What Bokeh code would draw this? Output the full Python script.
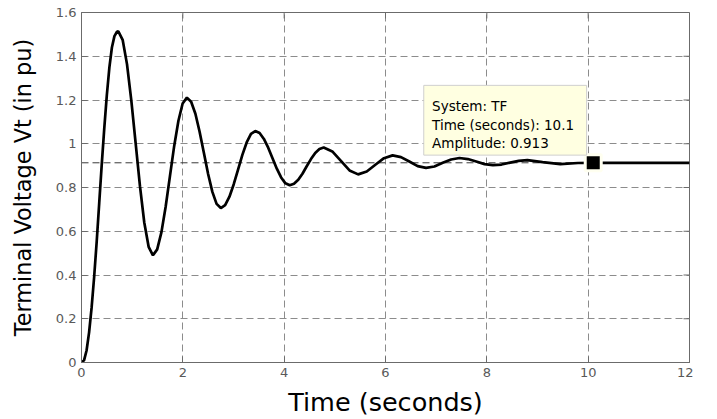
from bokeh.plotting import figure
from bokeh.models import Span, FixedTicker, Range1d
from bokeh.core.properties import value
from bokeh.embed import file_html
from bokeh.resources import INLINE

# ---- data (step response) ----
time_s = [0.00, 0.05, 0.10, 0.15, 0.20, 0.25, 0.30, 0.35, 0.40, 0.45, 0.50, 0.55, 0.60, 0.65, 0.70, 0.727,
          0.812, 0.898, 0.983, 1.069, 1.154, 1.239, 1.325, 1.41,
          1.494, 1.578, 1.661, 1.745, 1.829, 1.913, 1.996, 2.08,
          2.164, 2.248, 2.331, 2.415, 2.499, 2.583, 2.666, 2.75,
          2.835, 2.92, 3.005, 3.09, 3.175, 3.26, 3.345, 3.43,
          3.515, 3.60, 3.685, 3.77, 3.855, 3.94, 4.025, 4.11,
          4.194, 4.278, 4.361, 4.445, 4.529, 4.613, 4.696, 4.78,
          4.95, 5.12, 5.29, 5.46, 5.63, 5.80, 5.97, 6.14,
          6.305, 6.47, 6.635, 6.80, 6.965, 7.13, 7.295, 7.46,
          7.625, 7.79, 7.955, 8.12, 8.29, 8.46, 8.63, 8.80,
          9.10, 9.45, 9.80, 10.1, 12.0]
amplitude = [0.000, 0.010, 0.055, 0.138, 0.252, 0.392, 0.553, 0.730, 0.907, 1.073, 1.222, 1.348, 1.440, 1.492, 1.512, 1.514,
             1.475, 1.364, 1.198, 1.002, 0.806, 0.640, 0.529, 0.490,
             0.517, 0.596, 0.712, 0.851, 0.989, 1.105, 1.184, 1.211,
             1.192, 1.137, 1.055, 0.959, 0.862, 0.780, 0.725, 0.706,
             0.719, 0.758, 0.815, 0.882, 0.949, 1.006, 1.045, 1.058,
             1.049, 1.022, 0.982, 0.934, 0.886, 0.846, 0.819, 0.810,
             0.817, 0.835, 0.863, 0.897, 0.930, 0.958, 0.976, 0.983,
             0.965, 0.922, 0.878, 0.860, 0.873, 0.904, 0.934, 0.947,
             0.939, 0.919, 0.898, 0.890, 0.896, 0.913, 0.928, 0.935,
             0.930, 0.919, 0.907, 0.902, 0.905, 0.914, 0.922, 0.925,
             0.916, 0.907, 0.912, 0.913, 0.913]
final_value = 0.913
cursor_time = [10.1]
cursor_amp = [0.913]
x_ticks = [0, 2, 4, 6, 8, 10, 12]
x_tick_labels = ["0", "2", "4", "6", "8", "10", "12"]
y_ticks = [0, 0.2, 0.4, 0.6, 0.8, 1.0, 1.2, 1.4, 1.6]
y_tick_labels = ["0", "0.2", "0.4", "0.6", "0.8", "1", "1.2", "1.4", "1.6"]
tip_lines = ["System: TF", "Time (seconds): 10.1", "Amplitude: 0.913"]

FONT = "DejaVu Sans"
AX_COL = "#6b6b6b"
GRID_COL = "#8c8c8c"

X0, X1, Y0, Y1 = 0, 12, 0, 1.6
p = figure(width=693, height=419, x_range=Range1d(X0, X1), y_range=Range1d(Y0, Y1),
           output_backend="svg", toolbar_location=None,
           min_border_left=81, min_border_right=4, min_border_top=12, min_border_bottom=56,
           background_fill_color="white", border_fill_color="white")
p.outline_line_color = AX_COL

# axes
p.xaxis.ticker = FixedTicker(ticks=x_ticks)
p.yaxis.ticker = FixedTicker(ticks=y_ticks)
p.xaxis.major_label_overrides = {t: s for t, s in zip(x_ticks, x_tick_labels)}
p.yaxis.major_label_overrides = {t: s for t, s in zip(y_ticks, y_tick_labels)}
for ax in (p.xaxis[0], p.yaxis[0]):
    ax.axis_line_color = AX_COL
    ax.major_tick_line_color = AX_COL
    ax.major_tick_in = 6
    ax.major_tick_out = 0
    ax.minor_tick_line_color = None
    ax.major_label_text_color = "#595959"
    ax.major_label_text_font = FONT
    ax.major_label_text_font_size = "13px"
    ax.major_label_standoff = 5
    ax.axis_label_text_font = FONT
    ax.axis_label_text_font_style = "normal"
    ax.axis_label_text_color = "black"

p.xaxis.axis_label = "Time (seconds)"
p.xaxis.axis_label_text_font_size = "25.5px"
p.xaxis.axis_label_standoff = 7
p.yaxis.axis_label = "Terminal Voltage Vt (in pu)"
p.yaxis.axis_label_text_font_size = "22.4px"
p.yaxis.axis_label_standoff = 17

# inward ticks on the right and top edges of the box (6 px long)
tick_dx = 6 / 608 * (X1 - X0)
tick_dy = 6 / 351 * (Y1 - Y0)
p.segment(x0=[X1] * len(y_ticks), y0=y_ticks, x1=[X1 - tick_dx] * len(y_ticks), y1=y_ticks,
          line_color=AX_COL, line_width=1)
p.segment(x0=x_ticks, y0=[Y1] * len(x_ticks), x1=x_ticks, y1=[Y1 - tick_dy] * len(x_ticks),
          line_color=AX_COL, line_width=1)

# grid
for g, tk in ((p.xgrid[0], x_ticks), (p.ygrid[0], y_ticks)):
    g.ticker = FixedTicker(ticks=tk)
    g.grid_line_color = GRID_COL
    g.grid_line_dash = "7 4"
    g.grid_line_width = 1

# steady-state line
ss = Span(location=final_value, dimension="width", line_color="#3a3a3a",
          line_dash="7 4", line_width=1, level="underlay")
p.add_layout(ss)

# response curve
p.line(time_s, amplitude, line_color="black", line_width=2.7)

# data cursor marker
p.scatter(cursor_time, cursor_amp, marker="square", size=16, fill_color="black",
          line_color="#fffff0", line_width=3)

# data tip box (positioned relative to the cursor point)
ct, ca = cursor_time[0], cursor_amp[0]
p.quad(left=[ct - 3.345], right=[ct - 0.13], top=[ca + 0.354], bottom=[ca + 0.035],
       fill_color="#ffffe1", line_color="#cfcfcf", line_width=1)
p.text(x=[ct - 3.18] * 3, y=[ca + 0.26, ca + 0.172, ca + 0.092], text=tip_lines,
       text_font=value(FONT), text_font_size=value("13.5px"),
       text_baseline="alphabetic", text_align="left", text_color="black")

open("out.html", "w").write(file_html(p, INLINE))
